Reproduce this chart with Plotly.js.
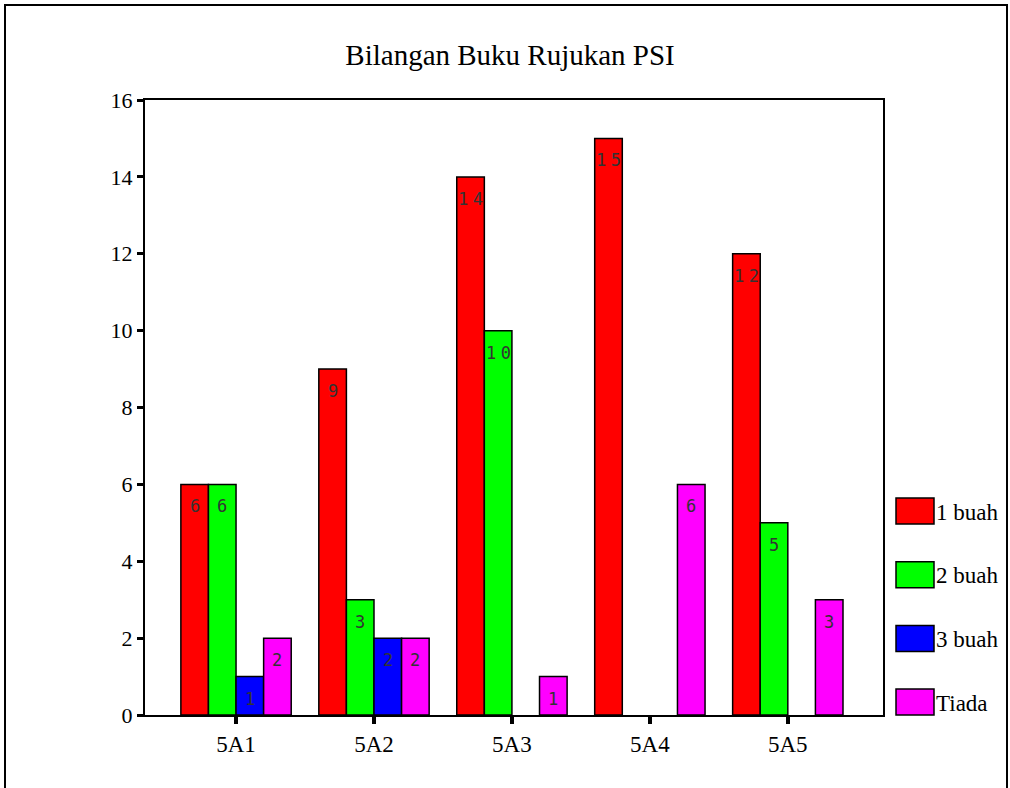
<!DOCTYPE html>
<html>
<head>
<meta charset="utf-8">
<script src="https://cdn.plot.ly/plotly-3.0.1.min.js"></script>
<style>
  html, body { margin: 0; padding: 0; background: #fff; }
  #frame { position: absolute; left: 4px; top: 4px; width: 1000px; height: 800px;
           border-top: 2px solid #000; border-left: 2px solid #000; border-right: 2px solid #000; }
  #chart { position: absolute; left: 0; top: 0; width: 1010px; height: 788px; }
</style>
</head>
<body>
<div id="frame"></div>
<div id="chart"></div>
<script>
const categories = ['5A1', '5A2', '5A3', '5A4', '5A5'];
const seriesNames = ['1 buah', '2 buah', '3 buah', 'Tiada'];
const seriesColors = ['#ff0000', '#00ff00', '#0000ff', '#ff00ff'];
const buah1 = [6, 9, 14, 15, 12];
const buah2 = [6, 3, 10, 0, 5];
const buah3 = [1, 2, 0, 0, 0];
const tiada = [2, 2, 1, 6, 3];
const yTicks = [0, 2, 4, 6, 8, 10, 12, 14, 16];
const chartTitle = 'Bilangan Buku Rujukan PSI';

const seriesValues = [buah1, buah2, buah3, tiada];
const barW = 0.2;
const serif = 'Liberation Serif';

const traces = seriesValues.map((vals, i) => ({
  type: 'bar',
  name: seriesNames[i],
  x: categories,
  y: vals,
  width: barW,
  offset: -0.4 + barW * i,
  marker: { color: seriesColors[i], line: { color: '#000', width: vals.map(v => v > 0 ? 1.5 : 0) } },
  showlegend: false,
  hoverinfo: 'x+y'
}));

const gap = "<span style='font-family:Liberation Sans;font-size:16px'> </span>";
const annotations = [];
seriesValues.forEach((vals, i) => {
  vals.forEach((v, j) => {
    if (v > 0) {
      annotations.push({
        x: j - 0.4 + barW * i + barW / 2, y: v, xref: 'x', yref: 'y',
        text: String(v).split('').join(gap), showarrow: false,
        yanchor: 'top', yshift: -10,
        font: { family: 'DejaVu Sans Mono', size: 17, color: '#333' }
      });
    }
  });
});

// custom legend (large swatches like the reference)
const shapes = [];
seriesNames.forEach((name, i) => {
  const cy = 511 + i * 63.7; // pixel centre
  const toPy = p => (715 - p) / 615;
  const toPx = p => (p - 145) / 738;
  shapes.push({
    type: 'rect', xref: 'paper', yref: 'paper',
    x0: toPx(896), x1: toPx(934), y0: toPy(cy + 13), y1: toPy(cy - 13),
    fillcolor: seriesColors[i], line: { color: '#000', width: 1.5 }
  });
  annotations.push({
    xref: 'paper', yref: 'paper', x: toPx(934), y: toPy(cy + 1),
    xanchor: 'left', yanchor: 'middle', text: name, showarrow: false,
    font: { family: serif, size: 23, color: '#000' }
  });
});

const layout = {
  width: 1010, height: 788,
  font: { family: serif },
  margin: { l: 145, r: 127, t: 100, b: 73, pad: 0 },
  paper_bgcolor: 'rgba(0,0,0,0)', plot_bgcolor: '#fff',
  title: { text: chartTitle, x: 0.505, xanchor: 'center', y: 1 - 55 / 788, yanchor: 'middle',
           font: { family: serif, size: 29, color: '#000' } },
  showlegend: false,
  barmode: 'overlay',
  xaxis: {
    type: 'category', range: [-0.66, 4.69], showgrid: false, zeroline: false,
    showline: true, mirror: true, linecolor: '#000', linewidth: 2,
    ticks: 'outside', ticklen: 7, tickwidth: 4, tickcolor: '#000',
    tickfont: { family: serif, size: 23, color: '#000' }
  },
  yaxis: {
    range: [0, 16], tickvals: yTicks, showgrid: false, zeroline: false,
    showline: true, mirror: true, linecolor: '#000', linewidth: 2,
    ticks: 'outside', ticklen: 6, tickwidth: 3, tickcolor: '#000',
    tickfont: { family: serif, size: 22, color: '#000' }
  },
  shapes: shapes,
  annotations: annotations
};

Plotly.newPlot('chart', traces, layout, { displayModeBar: false, staticPlot: true });
</script>
</body>
</html>
